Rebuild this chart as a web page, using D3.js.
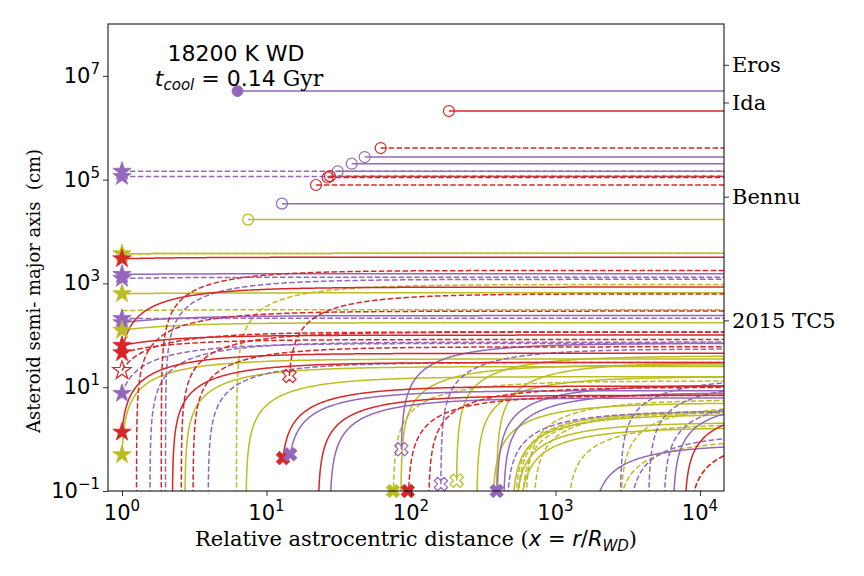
<!DOCTYPE html>
<html><head><meta charset="utf-8">
<script src="https://cdn.jsdelivr.net/npm/d3@7"></script>
<style>body{margin:0;background:#fff} svg{display:block}</style>
</head><body><svg id="c" width="864" height="576"></svg>
<script>
// ---------- data ----------
const xTickValues = [1, 10, 100, 1000, 10000];
const xTickExps = ["0", "1", "2", "3", "4"];
const yTickValues = [0.1, 10, 1000, 1e5, 1e7];
const yTickExps = ["\u22121", "1", "3", "5", "7"];
const rightNames = ["Eros", "Ida", "Bennu", "2015 TC5"];
const rightValues = [1.6e7, 3.0e6, 4.6e4, 190];

// each curve: [start x, start a (0 = grows from zero), asymptotic a at large x]
const purpleSolid = [
  [6.3, 5.1e6, 5.1e6], [47.8, 2.73e5, 2.73e5], [38.9, 2.03e5, 2.03e5], [12.8, 3.45e4, 3.45e4],
  [1, 1490, 1540], [1, 175, 240], [14.6, 0.51, 8.6], [27.4, 0, 6.2], [85.7, 0.64, 70],
  [392, 0, 11], [435, 0, 7.9], [1780, 0, 0.8], [6500, 0, 5.5]
];
const purpleDashed = [
  [31.1, 1.45e5, 1.45e5], [1, 1.45e5, 1.45e5], [1, 1.15e5, 1.15e5], [1, 1250, 1320],
  [1, 210, 213], [1, 7.6, 70], [1.56, 0, 74], [2.0, 0, 1200], [3.94, 0, 30],
  [161, 0.136, 55], [457, 0, 3.5], [2800, 0, 15], [3200, 0, 1.3], [4400, 0, 12], [5600, 0, 6]
];
const redSolid = [
  [183, 2.1e6, 2.1e6], [1, 2990, 3200], [1, 64, 101], [1, 46, 850], [1, 1.36, 45],
  [2.23, 0, 30], [13.0, 0.43, 10.5], [22.7, 0, 7], [7800, 0, 4]
];
const redDashed = [
  [61.7, 4.07e5, 4.07e5], [26.5, 1.1e5, 1.1e5], [27.5, 1.17e5, 1.17e5], [22, 7.9e4, 7.9e4],
  [1, 46, 83], [1, 21, 116], [1.26, 0, 293], [1.87, 0, 1780], [2.57, 0, 116], [3.1, 0, 60],
  [14.4, 16.5, 630], [95, 0, 7], [132, 0, 10], [8300, 0, 1.1]
];
const oliveSolid = [
  [7.45, 1.7e4, 1.7e4], [1, 3730, 3800], [1, 633, 660], [1, 125, 175], [1, 0.5, 35],
  [2.72, 0, 25], [7.2, 0, 16], [85, 0, 27], [207, 0.158, 40], [285, 0, 16], [390, 0, 30],
  [365, 0, 5], [498, 0, 3], [525, 0, 2.1], [560, 0, 1.67]
];
const oliveDashed = [
  [1, 3730, 3800], [1, 300, 312], [6.2, 0, 955], [75, 0, 13.2], [520, 0, 3.5], [540, 0, 3.5],
  [580, 0, 3.3], [620, 0, 5.8], [700, 0, 3.6], [1200, 0, 2.0], [2630, 0, 1.0], [2800, 0, 4.7], [8300, 0, 1.1]
];

// markers: [x, a, colour key]
const starsFilled = [
  [1, 1.45e5, "p"], [1, 1.15e5, "p"], [1, 3730, "o"], [1, 2990, "r"], [1, 1490, "p"], [1, 1250, "p"],
  [1, 633, "o"], [1, 210, "p"], [1, 175, "p"], [1, 125, "o"], [1, 64, "r"], [1, 46, "r"],
  [1, 7.6, "p"], [1, 1.36, "r"], [1, 0.5, "o"]
];
const starsOpen = [[1, 21, "r"]];
const crossFilled = [[13.0, 0.43, "r"], [14.6, 0.51, "p"], [75, 0.1, "o"], [95, 0.1, "r"], [392, 0.1, "p"]];
const crossOpen = [[14.4, 16.5, "r"], [85.7, 0.64, "p"], [161, 0.136, "p"], [207, 0.158, "o"]];
const circlesOpen = [
  [183, 2.1e6, "r"], [61.7, 4.07e5, "r"], [47.8, 2.73e5, "p"], [38.9, 2.03e5, "p"], [31.1, 1.45e5, "p"],
  [26.5, 1.1e5, "r"], [27.5, 1.17e5, "r"], [22, 7.9e4, "r"], [12.8, 3.45e4, "p"], [7.45, 1.7e4, "o"]
];
const circlesFilled = [[6.3, 5.1e6, "p"]];

// ---------- drawing ----------
const colors = {p: "#9467bd", r: "#d62728", o: "#bcbd22"};
const svg = d3.select("#c");
const L = 108, R = 724, T = 24, B = 491;
const x = d3.scaleLog().domain([0.8, 14660]).range([L, R]);
const y = d3.scaleLog().domain([0.1, 1e8]).range([B, T]);

svg.append("defs").append("clipPath").attr("id", "clip")
  .append("rect").attr("x", L).attr("y", T).attr("width", R - L).attr("height", B - T);

const plot = svg.append("g").attr("clip-path", "url(#clip)");
const line = d3.line().x(d => x(d[0])).y(d => y(Math.max(d[1], 1e-3)));

function curvePoints(c) {
  const [sx, sa, A] = c;
  const xmax = x.domain()[1] * 1.05;
  if (sa >= A * 0.999) return [[sx, A], [xmax, A]];
  const x0 = sa > 0 ? sx * (1 - sa / A) : sx;
  const u0 = sa > 0 ? Math.log10(sx / x0 - 1) : Math.log10(0.01 / A);
  const u1 = Math.log10(xmax / x0 - 1);
  const pts = [];
  const n = 400;
  for (let i = 0; i <= n; i++) {
    const u = u0 + (u1 - u0) * i / n;
    const xx = x0 * (1 + Math.pow(10, u));
    pts.push([xx, A * (1 - x0 / xx)]);
  }
  return pts;
}

function drawSet(data, col, dashed) {
  plot.selectAll(null).data(data).enter().append("path")
    .attr("d", d => line(curvePoints(d)))
    .attr("fill", "none").attr("stroke", col).attr("stroke-width", 1.5)
    .attr("stroke-dasharray", dashed ? "5.5,2.4" : null);
}
drawSet(oliveSolid, colors.o, false);
drawSet(oliveDashed, colors.o, true);
drawSet(purpleSolid, colors.p, false);
drawSet(purpleDashed, colors.p, true);
drawSet(redSolid, colors.r, false);
drawSet(redDashed, colors.r, true);

// markers
const mk = svg.append("g");
function markers(data, type, size, filled, rot) {
  mk.selectAll(null).data(data).enter().append("path")
    .attr("d", d3.symbol().type(type).size(size))
    .attr("transform", d => `translate(${x(d[0])},${y(d[1])}) rotate(${rot || 0})`)
    .attr("fill", d => filled ? colors[d[2]] : "none")
    .attr("stroke", d => colors[d[2]]).attr("stroke-width", filled ? 0.8 : 1.2);
}
markers(starsFilled, d3.symbolStar, 105, true);
markers(starsOpen, d3.symbolStar, 105, false);
markers(crossFilled, d3.symbolCross, 115, true, 45);
markers(crossOpen, d3.symbolCross, 110, false, 45);
markers(circlesOpen, d3.symbolCircle, 95, false);
markers(circlesFilled, d3.symbolCircle, 95, true);

// frame
svg.append("rect").attr("x", L).attr("y", T).attr("width", R - L).attr("height", B - T)
  .attr("fill", "none").attr("stroke", "#000").attr("stroke-width", 1);

// x axis
const xAxisG = svg.append("g").attr("transform", `translate(0,${B})`);
const xMinor = [];
for (let e = -1; e <= 4; e++) for (let m = 2; m <= 9; m++) { const v = m * Math.pow(10, e); if (v >= 0.8 && v <= 14660) xMinor.push(v); }
xAxisG.call(d3.axisBottom(x).tickValues(xMinor).tickSize(2.5).tickFormat(""));
xAxisG.call(d3.axisBottom(x).tickValues(xTickValues).tickSize(5).tickFormat(""));
xAxisG.selectAll(".domain").remove();
xAxisG.selectAll("line").attr("stroke", "#000").attr("stroke-width", 0.8);
const xl = svg.append("g");
xTickValues.forEach((v, i) => {
  const t = xl.append("text").attr("x", x(v)).attr("y", B + 29).attr("text-anchor", "middle")
    .attr("font-family", "DejaVu Sans").attr("font-size", 21);
  t.append("tspan").text("10");
  t.append("tspan").attr("font-size", 15).attr("dy", -9).text(xTickExps[i]);
});

// y axis
const yAxisG = svg.append("g").attr("transform", `translate(${L},0)`);
const yMinor = [1, 100, 1e4, 1e6];
yAxisG.call(d3.axisLeft(y).tickValues(yMinor).tickSize(2.5).tickFormat(""));
yAxisG.call(d3.axisLeft(y).tickValues(yTickValues).tickSize(5).tickFormat(""));
yAxisG.selectAll(".domain").remove();
yAxisG.selectAll("line").attr("stroke", "#000").attr("stroke-width", 0.8);
yTickValues.forEach((v, i) => {
  const t = svg.append("text").attr("x", L - 8).attr("y", y(v) + 7).attr("text-anchor", "end")
    .attr("font-family", "DejaVu Sans").attr("font-size", 21);
  t.append("tspan").text("10");
  t.append("tspan").attr("font-size", 15).attr("dy", -9).text(yTickExps[i]);
});

// right labels
rightValues.forEach((v, i) => {
  svg.append("line").attr("x1", R).attr("x2", R + 5).attr("y1", y(v)).attr("y2", y(v)).attr("stroke", "#000").attr("stroke-width", 0.8);
  svg.append("text").attr("x", R + 8).attr("y", y(v) + 7).attr("font-family", "DejaVu Serif")
    .attr("font-size", 21).text(rightNames[i]);
});

// axis titles
const xt = svg.append("text").attr("x", 416).attr("y", 546).attr("text-anchor", "middle")
  .attr("font-family", "DejaVu Serif").attr("font-size", 21);
xt.append("tspan").text("Relative astrocentric distance (");
xt.append("tspan").attr("font-style", "italic").attr("font-family", "DejaVu Sans").text("x");
xt.append("tspan").attr("font-family", "DejaVu Sans").text(" = ");
xt.append("tspan").attr("font-style", "italic").attr("font-family", "DejaVu Sans").text("r");
xt.append("tspan").attr("font-family", "DejaVu Sans").text("/");
xt.append("tspan").attr("font-style", "italic").attr("font-family", "DejaVu Sans").text("R");
xt.append("tspan").attr("font-style", "italic").attr("font-family", "DejaVu Sans").attr("font-size", 15).attr("dy", 5).text("WD");
xt.append("tspan").attr("dy", -5).text(")");

svg.append("text").attr("transform", "translate(40,291) rotate(-90)").attr("text-anchor", "middle")
  .attr("font-family", "DejaVu Serif").attr("font-size", 18).attr("xml:space", "preserve")
  .text("Asteroid semi- major axis  (cm)");

// annotation
svg.append("text").attr("x", 236).attr("y", 61).attr("text-anchor", "middle")
  .attr("font-family", "DejaVu Sans").attr("font-size", 22).text("18200 K WD");
const an = svg.append("text").attr("x", 239).attr("y", 86).attr("text-anchor", "middle").attr("font-size", 22);
an.append("tspan").attr("font-family", "DejaVu Sans").attr("font-style", "italic").text("t");
an.append("tspan").attr("font-family", "DejaVu Sans").attr("font-style", "italic").attr("font-size", 15).attr("dy", 4).text("cool");
an.append("tspan").attr("font-family", "DejaVu Sans").attr("dy", -4).text(" = 0.14 ");
an.append("tspan").attr("font-family", "DejaVu Serif").text("Gyr");
</script></body></html>
